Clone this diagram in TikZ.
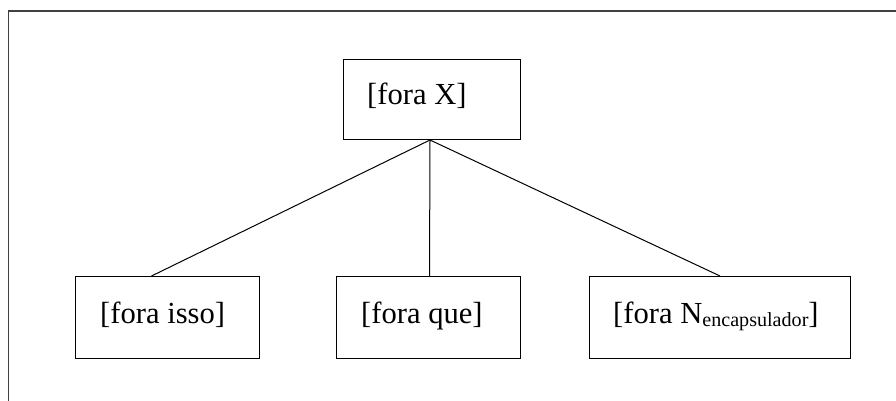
\documentclass[tikz,border=0pt]{standalone}
\usepackage{fontspec}
\setmainfont{Liberation Serif}
\begin{document}
\begin{tikzpicture}[x=1pt,y=-1pt,
  box/.style={draw, line width=1pt, rectangle, inner sep=0pt, anchor=north west},
  lbl/.style={anchor=base west, inner sep=0pt, font=\fontsize{30.6}{36}\selectfont},
  edge/.style={line width=1pt}]
\useasboundingbox (0,0) rectangle (896,401);
\draw[line width=1.6pt, black!75] (8.5,401) -- (8.5,11) -- (896,11);
\node[box, minimum width=177pt, minimum height=80pt] (top) at (343,59) {};
\node[box, minimum width=184pt, minimum height=82pt] (left) at (75,276) {};
\node[box, minimum width=184pt, minimum height=82pt] (mid) at (336,276) {};
\node[box, minimum width=261pt, minimum height=82pt] (right) at (589,276) {};
\node[lbl] (ttop) at (367,105) {[fora X]};
\node[lbl] (tleft) at (100,323) {[fora isso]};
\node[lbl] (tmid) at (361,323) {[fora que]};
\node[lbl] (tright) at (613,323) {[fora N\raisebox{-3pt}{\fontsize{20.1}{24}\selectfont encapsulador}]};
\coordinate (hub) at ([xshift=-2pt]top.south);
\draw[edge] (hub) -- ([xshift=-16pt]left.north);
\draw[edge] (hub) -- ([xshift=1pt]mid.north);
\draw[edge] (hub) -- (right.north);
\end{tikzpicture}
\end{document}
